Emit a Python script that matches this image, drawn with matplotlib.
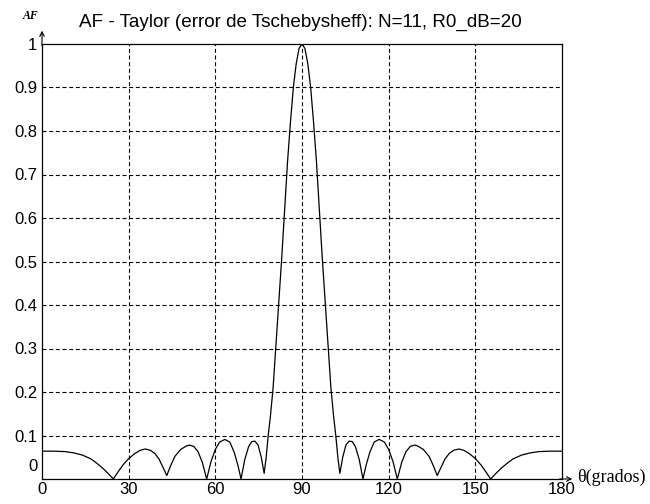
import matplotlib.pyplot as plt
import matplotlib.transforms as mtransforms

# --- datos ---
theta = [0, 4, 8, 11, 14, 17, 19, 21, 23, 24.7, 26.5, 28, 30, 32, 34, 35.7, 37.5, 39, 40.5, 42,
         43.2, 44.5, 46, 48, 50, 51, 52.5, 54, 55.5, 57, 58.5, 60, 61.5, 63.3, 65, 66.5, 67.8, 68.9,
         70.2, 71.5, 72.6, 73.7, 74.8, 75.9, 76.9, 77.6, 78.3, 79, 80, 81, 82, 83, 84, 85, 86, 87,
         88, 89, 90,
         91, 92, 93, 94, 95, 96, 97, 98, 99, 100, 101, 101.7, 102.4, 103.1, 104.1, 105.2, 106.3,
         107.4, 108.5, 109.8, 111.1, 112.2, 113.5, 115, 116.7, 118.5, 120, 121.5, 123, 124.5, 126,
         127.5, 129, 130, 132, 134, 135.5, 136.8, 138, 139.5, 141, 142.5, 144.3, 146, 148, 150, 152,
         153.5, 155.3, 157, 159, 161, 163, 166, 169, 172, 176, 180]
af = [0.064, 0.064, 0.063, 0.060, 0.055, 0.046, 0.036, 0.025, 0.012, 0.0, 0.018, 0.032, 0.047,
      0.058, 0.066, 0.069, 0.066, 0.059, 0.046, 0.025, 0.008, 0.030, 0.052, 0.068, 0.076, 0.078,
      0.075, 0.063, 0.038, 0.0, 0.040, 0.068, 0.085, 0.091, 0.085, 0.062, 0.032, 0.0, 0.045,
      0.074, 0.086, 0.087, 0.078, 0.050, 0.013, 0.050, 0.10, 0.14, 0.21, 0.31, 0.41, 0.51, 0.62,
      0.73, 0.82, 0.90, 0.955, 0.99, 1.0,
      0.99, 0.955, 0.90, 0.82, 0.73, 0.62, 0.51, 0.41, 0.31, 0.21, 0.14, 0.10, 0.050, 0.013,
      0.050, 0.078, 0.087, 0.086, 0.074, 0.045, 0.0, 0.032, 0.062, 0.085, 0.091, 0.085, 0.068,
      0.040, 0.0, 0.038, 0.063, 0.075, 0.078, 0.076, 0.068, 0.052, 0.030, 0.008, 0.025, 0.046,
      0.059, 0.066, 0.069, 0.066, 0.058, 0.047, 0.032, 0.018, 0.0, 0.012, 0.025, 0.036, 0.046,
      0.055, 0.060, 0.063, 0.064, 0.064]
xticks = [0, 30, 60, 90, 120, 150, 180]
yticks = [0, 0.1, 0.2, 0.3, 0.4, 0.5, 0.6, 0.7, 0.8, 0.9, 1]
ytick_labels = ['0', '0.1', '0.2', '0.3', '0.4', '0.5', '0.6', '0.7', '0.8', '0.9', '1']
title = "AF - Taylor (error de Tschebysheff): N=11, R0_dB=20"

plt.rcParams['font.family'] = ['Liberation Sans', 'DejaVu Sans']

W, H = 650, 504
fig = plt.figure(figsize=(W / 100, H / 100), dpi=100)
ax = fig.add_axes([42 / W, 25 / H, 520 / W, 435 / H])

ax.plot(theta, af, color='black', lw=0.9)

ax.set_xlim(0, 180)
ax.set_ylim(0, 1)
ax.set_xticks(xticks)
ax.set_yticks(yticks)
ax.set_yticklabels(ytick_labels)
ax.tick_params(length=0, labelsize=12, colors='black')
ax.tick_params(axis='x', pad=2)
ax.tick_params(axis='y', pad=3.5)

# el "0" del eje y va un poco mas arriba
lab0 = ax.get_yticklabels()[0]
lab0.set_transform(lab0.get_transform() + mtransforms.ScaledTranslation(0, 10 / 72, fig.dpi_scale_trans))

# rejilla punteada (sin las lineas del borde)
for x in xticks[1:-1]:
    ax.axvline(x, color='black', lw=0.8, dashes=(3.6, 2.4))
for y in yticks[1:-1]:
    ax.axhline(y, color='black', lw=0.8, dashes=(3.6, 2.4))

for s in ax.spines.values():
    s.set_linewidth(0.9)

# flechas de los ejes
ax.annotate('', xy=(0, 1.037), xytext=(0, 0.99), xycoords='axes fraction',
            arrowprops=dict(arrowstyle='->', lw=0.8, color='black', mutation_scale=8), annotation_clip=False)
ax.annotate('', xy=(1.025, 0), xytext=(0.99, 0), xycoords='axes fraction',
            arrowprops=dict(arrowstyle='->', lw=0.8, color='black', mutation_scale=8), annotation_clip=False)

fig.text(79 / W, 1 - 22 / H, title, fontsize=13.6, va='center', ha='left')
fig.text(30.5 / W, 1 - 16 / H, 'AF', fontsize=8.5, va='center', ha='center',
         family='Liberation Serif', style='italic', weight='bold')
fig.text(577 / W, 1 - 477 / H, 'θ(grados)', fontsize=13, va='center', ha='left',
         family=['Liberation Serif', 'DejaVu Serif'])

fig.savefig('out.png', dpi=100)
